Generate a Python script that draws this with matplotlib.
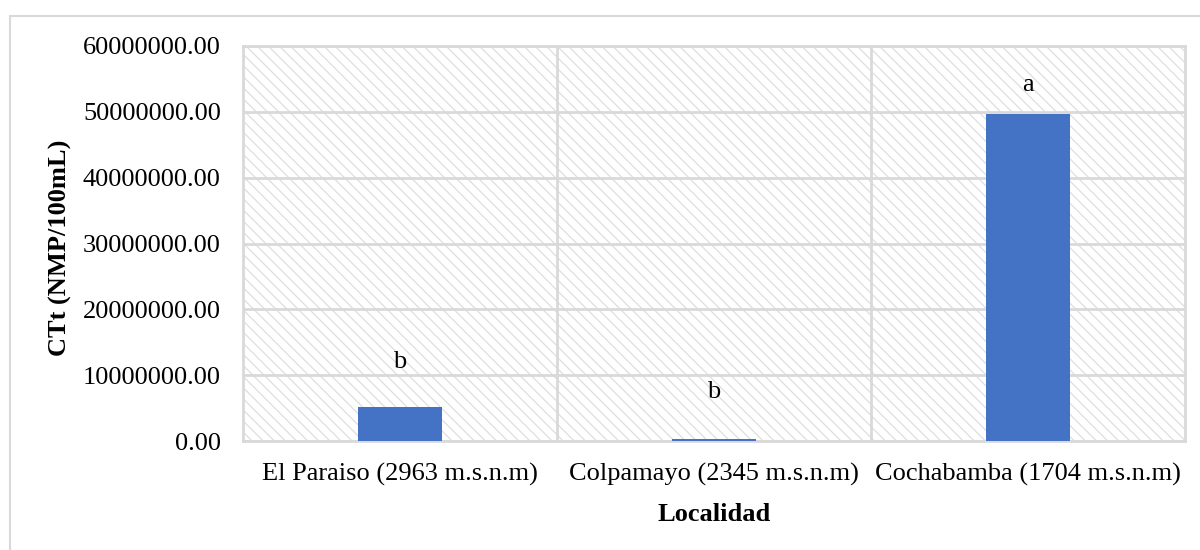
import matplotlib
matplotlib.use("Agg")
import matplotlib.pyplot as plt
from matplotlib.patches import Rectangle
from matplotlib.ticker import FormatStrFormatter, FixedLocator

# datos
localidades = ["El Paraiso (2963 m.s.n.m)", "Colpamayo (2345 m.s.n.m)", "Cochabamba (1704 m.s.n.m)"]
ctt = [5200000, 300000, 49700000]
letras = ["b", "b", "a"]
letra_y = [12000000, 7450000, 54100000]
yticks = [0, 10000000, 20000000, 30000000, 40000000, 50000000, 60000000]

plt.rcParams["font.family"] = ["Liberation Serif", "DejaVu Serif"]
plt.rcParams["hatch.linewidth"] = 0.9
plt.rcParams["hatch.color"] = "#dedede"

GRIS = "#d9d9d9"
AZUL = "#4472C4"

fig = plt.figure(figsize=(12, 5.5), dpi=100, facecolor="white")
ax = fig.add_axes([243 / 1200, 1 - 441 / 550, 942 / 1200, 395 / 550])

# marco exterior del gráfico
fig.patches.append(Rectangle((10 / 1200, -0.1), 1.2, 1 - 16 / 550 + 0.1,
                             transform=fig.transFigure, fill=False,
                             edgecolor=GRIS, lw=1.5, zorder=0))

# fondo rayado del área de trazado
ax.add_patch(Rectangle((0, 0), 1, 1, transform=ax.transAxes, facecolor="white",
                       hatch="\\\\\\", edgecolor="#dedede", lw=0, zorder=0))

x = range(len(localidades))
ax.bar(x, ctt, width=0.27, color=AZUL, zorder=3)
for i, (l, yy) in enumerate(zip(letras, letra_y)):
    ax.text(i, yy, l, ha="center", va="center", fontsize=19, zorder=4)

ax.set_xlim(-0.5, 2.5)
ax.set_ylim(0, 60000000)
ax.set_yticks(yticks)
ax.yaxis.set_major_formatter(FormatStrFormatter("%.2f"))
ax.set_xticks(list(x))
ax.set_xticklabels(localidades)
ax.xaxis.set_minor_locator(FixedLocator([0.5, 1.5]))
ax.tick_params(axis="both", which="both", length=0, labelsize=19)
ax.tick_params(axis="y", pad=16)
ax.tick_params(axis="x", pad=16)

ax.grid(axis="y", which="major", color=GRIS, lw=2, zorder=1)
ax.grid(axis="x", which="minor", color=GRIS, lw=2, zorder=1)
for s in ax.spines.values():
    s.set_color(GRIS)
    s.set_linewidth(2)

ax.set_ylabel("CTt (NMP/100mL)", fontsize=19, fontweight="bold")
ax.yaxis.set_label_coords(-0.1815, 0.49)
ax.set_xlabel("Localidad", fontsize=19, fontweight="bold")
ax.xaxis.set_label_coords(0.5, -0.157)

fig.savefig("out.png", dpi=100, facecolor="white")
